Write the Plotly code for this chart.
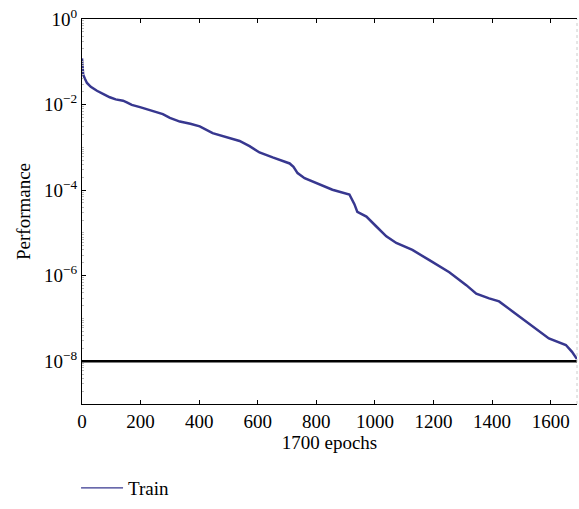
import plotly.graph_objects as go

epochs = [0, 2, 4, 10, 17, 30, 51, 75, 95, 115, 129, 140, 153, 170, 198, 232, 276, 300,
          334, 370, 402, 446, 500, 538, 572, 606, 651, 709, 722, 736, 760, 787, 855, 913,
          930, 940, 971, 1005, 1039, 1073, 1128, 1186, 1254, 1312, 1346, 1390, 1424, 1469,
          1526, 1594, 1652, 1673, 1690]
train_perf = [1.2e-1, 8.9e-2, 5.0e-2, 4.0e-2, 3.2e-2, 2.6e-2, 2.1e-2, 1.74e-2, 1.48e-2,
              1.32e-2, 1.26e-2, 1.23e-2, 1.12e-2, 9.8e-3, 8.7e-3, 7.4e-3, 6.0e-3, 4.9e-3,
              4.0e-3, 3.55e-3, 3.1e-3, 2.14e-3, 1.66e-3, 1.41e-3, 1.07e-3, 7.6e-4, 5.8e-4,
              4.2e-4, 3.5e-4, 2.5e-4, 1.9e-4, 1.58e-4, 1.02e-4, 7.9e-5, 4.7e-5, 3.1e-5,
              2.4e-5, 1.41e-5, 8.3e-6, 5.8e-6, 4.0e-6, 2.3e-6, 1.2e-6, 6.0e-7, 3.8e-7,
              2.95e-7, 2.5e-7, 1.48e-7, 7.6e-8, 3.4e-8, 2.4e-8, 1.66e-8, 1.12e-8]
goal_x = [0, 1700]
goal_y = [1e-8, 1e-8]

x_ticks = [0, 200, 400, 600, 800, 1000, 1200, 1400, 1600]
y_ticks = [1e0, 1e-2, 1e-4, 1e-6, 1e-8]
y_ticktext = ["10<sup>0</sup>", "10<sup>−2</sup>", "10<sup>−4</sup>", "10<sup>−6</sup>", "10<sup>−8</sup>"]

FONT = "Liberation Serif"
LINE_COLOR = "#37378f"

fig = go.Figure()
fig.add_trace(go.Scatter(x=goal_x, y=goal_y, mode="lines",
                         line=dict(color="black", width=2.5), showlegend=False,
                         hoverinfo="skip"))
fig.add_trace(go.Scatter(x=epochs, y=train_perf, mode="lines", name="Train",
                         line=dict(color=LINE_COLOR, width=2.5), showlegend=False))
# legend-only entry with the thin sample line of the reference
fig.add_trace(go.Scatter(x=[None], y=[None], mode="lines", name="Train",
                         line=dict(color=LINE_COLOR, width=1.2), showlegend=True))

fig.update_layout(
    width=579, height=509,
    margin=dict(l=82, r=2, t=19, b=95),
    paper_bgcolor="white", plot_bgcolor="white",
    font=dict(family=FONT, size=19, color="black"),
    showlegend=True,
    legend=dict(orientation="h", x=-0.012, xanchor="left", y=-0.218, yanchor="middle",
                itemwidth=42, font=dict(family=FONT, size=19, color="black"),
                bgcolor="rgba(0,0,0,0)"),
    xaxis=dict(range=[0, 1690], tickvals=x_ticks, ticks="inside", ticklen=4,
               tickcolor="black", showline=True, linecolor="black", linewidth=1,
               mirror="ticks", showgrid=False, zeroline=False,
               tickfont=dict(family=FONT, size=19),
               title=dict(text="1700 epochs", font=dict(family=FONT, size=19), standoff=4)),
    yaxis=dict(type="log", range=[-9, 0], tickvals=y_ticks, ticktext=y_ticktext,
               ticks="inside", ticklen=4, tickcolor="black", showline=True,
               linecolor="black", linewidth=1, showgrid=False, zeroline=False,
               tickfont=dict(family=FONT, size=19),
               minor=dict(ticks="inside", ticklen=2, tickcolor="#bbbbbb", dtick="D1"),
               title=dict(text="Performance", font=dict(family=FONT, size=19), standoff=8)),
)
fig.add_shape(type="line", xref="paper", yref="paper", x0=1, x1=1, y0=0, y1=1,
              line=dict(color="#cccccc", width=1, dash="dot"))

fig.write_html("out.html")
